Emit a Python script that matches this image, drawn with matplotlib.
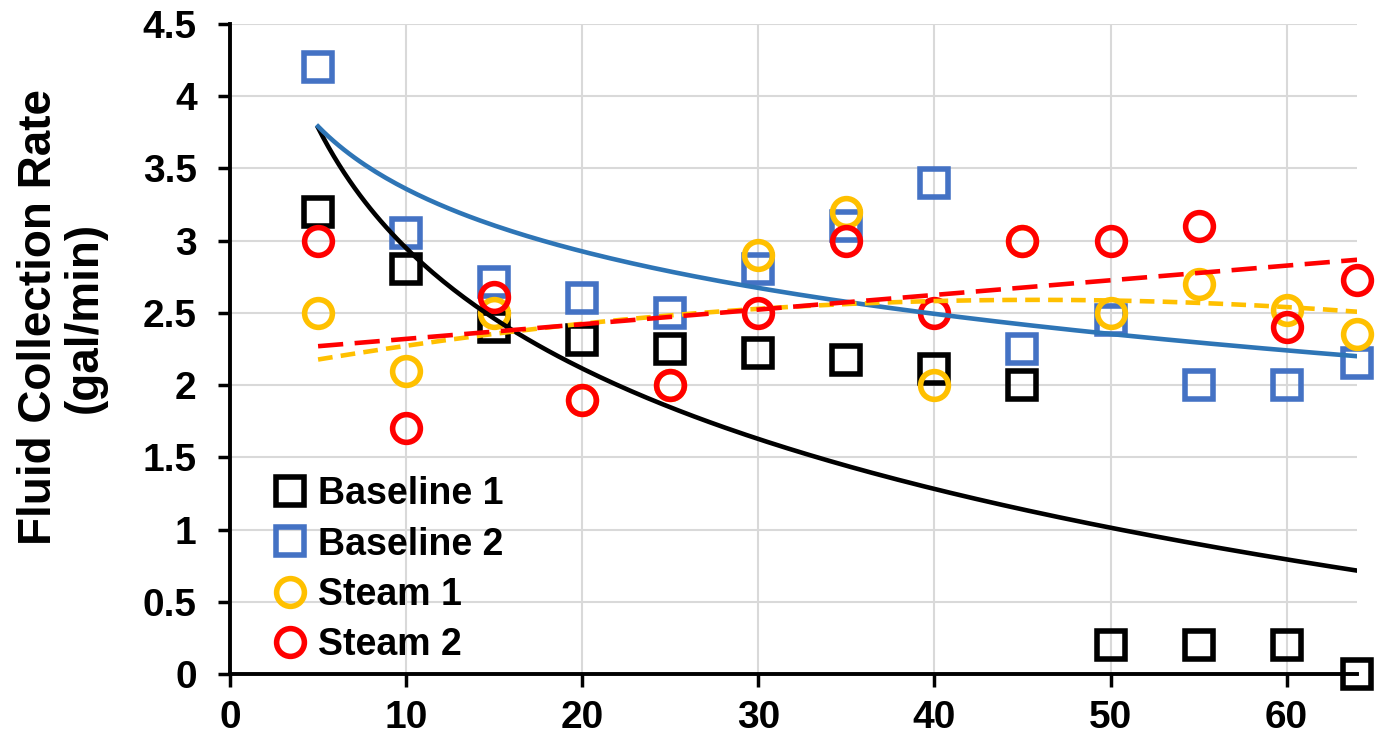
import numpy as np
import matplotlib.pyplot as plt

plt.rcParams['font.family'] = ['Liberation Sans', 'DejaVu Sans']
plt.rcParams['font.weight'] = 'bold'

# Temps (min) et débits mesurés (gal/min)
temps = [5, 10, 15, 20, 25, 30, 35, 40, 45, 50, 55, 60, 64]
baseline_1 = [3.2, 2.8, 2.4, 2.31, 2.25, 2.22, 2.17, 2.11, 2.0, 0.2, 0.2, 0.2, 0.0]
baseline_2 = [4.2, 3.05, 2.71, 2.6, 2.5, 2.8, 3.1, 3.4, 2.25, 2.45, 2.0, 2.0, 2.15]
steam_1 = [2.5, 2.1, 2.5, 1.9, 2.0, 2.9, 3.2, 2.0, 3.0, 2.5, 2.7, 2.52, 2.35]
steam_2 = [3.0, 1.7, 2.61, 1.9, 2.0, 2.5, 3.0, 2.5, 3.0, 3.0, 3.1, 2.4, 2.73]

bleu_pts = "#4472C4"
bleu_ligne = "#2E75B6"
jaune = "#FFC000"
rouge = "#FF0000"

fig = plt.figure(figsize=(13.79, 7.44), dpi=100)
ax = fig.add_axes([0.1668, 0.094, 0.8173, 0.874])

ms = 20
mew = 4
ax.plot(temps, baseline_1, "s", ms=ms, mfc="none", mec="black", mew=mew, label="Baseline 1", zorder=3, clip_on=False)
ax.plot(temps, baseline_2, "s", ms=ms, mfc="none", mec=bleu_pts, mew=mew, label="Baseline 2", zorder=3, clip_on=False)
ax.plot(temps, steam_1, "o", ms=ms, mfc="none", mec=jaune, mew=mew, label="Steam 1", zorder=3, clip_on=False)
ax.plot(temps, steam_2, "o", ms=ms, mfc="none", mec=rouge, mew=mew, label="Steam 2", zorder=3, clip_on=False)

# Courbes de tendance (comme dans Excel)
xx = np.linspace(min(temps), max(temps), 200)
t = np.array(temps, dtype=float)

coef_b1 = np.polyfit(np.log(t), baseline_1, 1)
ax.plot(xx, np.polyval(coef_b1, np.log(xx)), color="black", lw=3.3, zorder=4)

coef_b2 = np.polyfit(np.log(t), baseline_2, 1)
ax.plot(xx, np.polyval(coef_b2, np.log(xx)), color=bleu_ligne, lw=3.3, zorder=4)

coef_s1 = np.polyfit(t, steam_1, 2)
ax.plot(xx, np.polyval(coef_s1, xx), color=jaune, lw=3.3, ls=(0, (3.2, 1.8)), zorder=4)

coef_s2 = np.polyfit(t, steam_2, 1)
ax.plot(xx, np.polyval(coef_s2, xx), color=rouge, lw=3.3, ls=(0, (5.5, 2.5)), zorder=4)

ax.set_xlim(0, 64)
ax.set_ylim(0, 4.5)
ax.set_xticks(range(0, 61, 10))
ax.set_yticks(np.arange(0, 4.51, 0.5))
ax.set_yticklabels(["0", "0.5", "1", "1.5", "2", "2.5", "3", "3.5", "4", "4.5"])
ax.grid(True, color="#D9D9D9", lw=1.5)
ax.set_axisbelow(True)

for s in ["top", "right"]:
    ax.spines[s].set_visible(False)
for s in ["left", "bottom"]:
    ax.spines[s].set_linewidth(2.8)
ax.tick_params(width=2.5, length=9, labelsize=28)
ax.tick_params(axis="y", pad=15)
ax.tick_params(axis="x", pad=10)

fig.text(62 / 1379, 1 - 317 / 744, "Fluid Collection Rate\n(gal/min)", rotation=90,
         ha="center", va="center", fontsize=33, fontweight="bold", linespacing=1.05)

ax.legend(loc="lower left", bbox_to_anchor=(0.015, -0.012), frameon=False, fontsize=27,
          handletextpad=0.1, labelspacing=0.38, handlelength=1.3, borderaxespad=0.1)

fig.savefig("out.png", dpi=100)
